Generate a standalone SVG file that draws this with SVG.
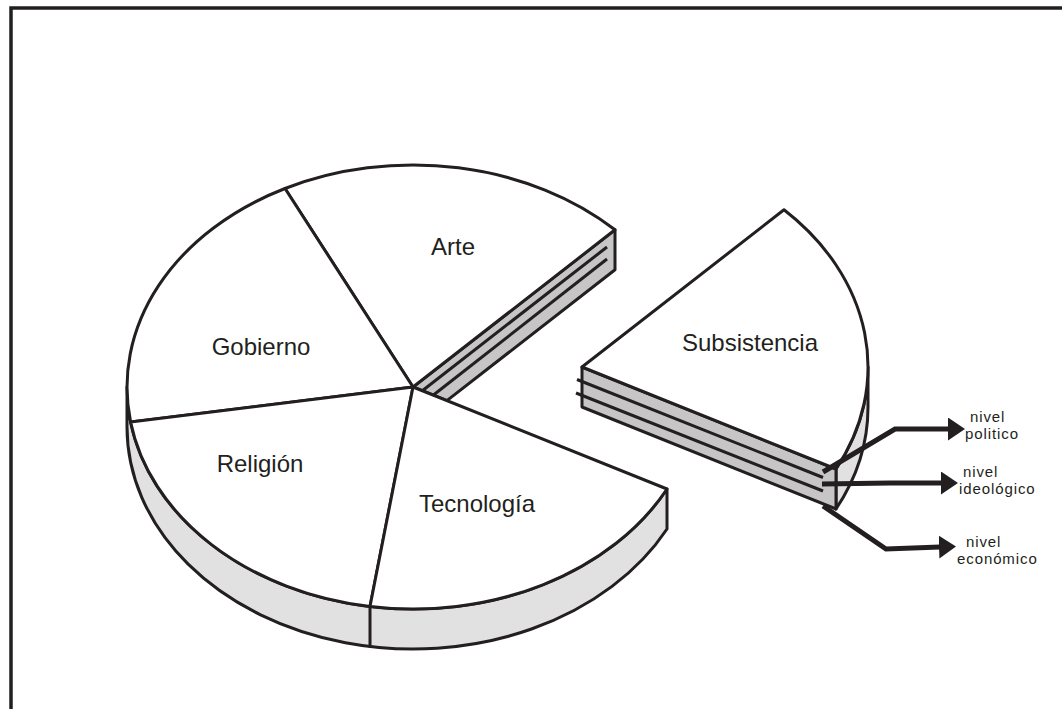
<svg xmlns="http://www.w3.org/2000/svg" width="1062" height="709" viewBox="0 0 1062 709">
  <style>
    .edge { stroke: #231f20; stroke-width: 3; stroke-linejoin: round; stroke-linecap: round; }
    .top { fill: #ffffff; }
    .rim { fill: #e1e1e1; }
    .cut { fill: #c6c6c6; }
    .layer { fill: none; stroke: #231f20; stroke-width: 3; stroke-linecap: butt; }
    .label { font-family: "Liberation Sans", Arial, sans-serif; font-size: 24px; fill: #231f20; text-anchor: middle; }
    .small { font-family: "Liberation Sans", Arial, sans-serif; font-size: 15px; fill: #231f20; letter-spacing: 0.9px; }
    .arrow { fill: none; stroke: #231f20; stroke-width: 5; stroke-linejoin: miter; }
    .frame { fill: none; stroke: #231f20; stroke-width: 3.5; }
  </style>
  <defs>
    <marker id="head" markerUnits="userSpaceOnUse" markerWidth="17" markerHeight="23" viewBox="0 0 17 23" refX="1" refY="11.5" orient="auto">
      <polygon points="0,0 17,11.5 0,23" fill="#231f20"/>
    </marker>
  </defs>

  <rect width="1062" height="709" fill="#ffffff"/>

  <!-- page frame: top and left rules only -->
  <polyline class="frame" points="11,709 11,8 1062,8"/>

  <!-- main pie: ellipse centre (413,387), rx 286, ry 222, depth 40 -->
  <g id="pie-main">
    <!-- outer rim of the pie body -->
    <path class="rim edge" d="M127,387 A286,222 0 0 0 667,489 L667,529 A286,222 0 0 1 127,427 Z"/>
    <line class="edge" x1="370" y1="606.5" x2="370" y2="646.5"/>
    <!-- exposed cut face where the slice was removed -->
    <path class="cut edge" d="M413,387 L615,229.8 L615,269.8 L446.9,400.6 Z"/>
    <line class="layer" x1="422.3" y1="390.7" x2="607" y2="247"/>
    <line class="layer" x1="432.5" y1="395.8" x2="607" y2="259"/>

    <g id="slice-arte">
      <path class="top edge" d="M413,387 L285,188.5 A286,222 0 0 1 615,229.8 Z"/>
      <text class="label" x="453" y="255">Arte</text>
    </g>
    <g id="slice-gobierno">
      <path class="top edge" d="M413,387 L130.6,422 A286,222 0 0 1 285,188.5 Z"/>
      <text class="label" x="261" y="355">Gobierno</text>
    </g>
    <g id="slice-religion">
      <path class="top edge" d="M413,387 L370,606.5 A286,222 0 0 1 130.6,422 Z"/>
      <text class="label" x="260" y="472">Religión</text>
    </g>
    <g id="slice-tecnologia">
      <path class="top edge" d="M413,387 L667,489 A286,222 0 0 1 370,606.5 Z"/>
      <text class="label" x="477" y="512">Tecnología</text>
    </g>
  </g>

  <!-- detached slice, same ellipse shifted by (169,-20) -->
  <g id="slice-subsistencia">
    <path class="rim edge" d="M868,367 A286,222 0 0 1 836,469 L836,509 A286,222 0 0 0 868,407 Z"/>
    <path class="cut edge" d="M582,367 L836,469 L836,509 L582,407 Z"/>
    <line class="layer" x1="577" y1="379.5" x2="823" y2="477.5"/>
    <line class="layer" x1="576" y1="393" x2="823" y2="491"/>
    <path class="top edge" d="M582,367 L784,209.8 A286,222 0 0 1 836,469 Z"/>
    <text class="label" x="750" y="351">Subsistencia</text>
  </g>

  <!-- layer call-outs -->
  <g id="connectors">
    <polyline class="arrow" points="823,472 895,429 949,429" marker-end="url(#head)"/>
    <polyline class="arrow" points="822,484 890,483 942,483" marker-end="url(#head)"/>
    <polyline class="arrow" points="823,506 886,549 940,547" marker-end="url(#head)"/>
  </g>

  <g id="label-politico">
    <text class="small" x="970" y="422">nivel</text>
    <text class="small" x="965" y="439">politico</text>
  </g>
  <g id="label-ideologico">
    <text class="small" x="963" y="477">nivel</text>
    <text class="small" x="959" y="494">ideológico</text>
  </g>
  <g id="label-economico">
    <text class="small" x="966" y="547">nivel</text>
    <text class="small" x="957" y="564">económico</text>
  </g>
</svg>
